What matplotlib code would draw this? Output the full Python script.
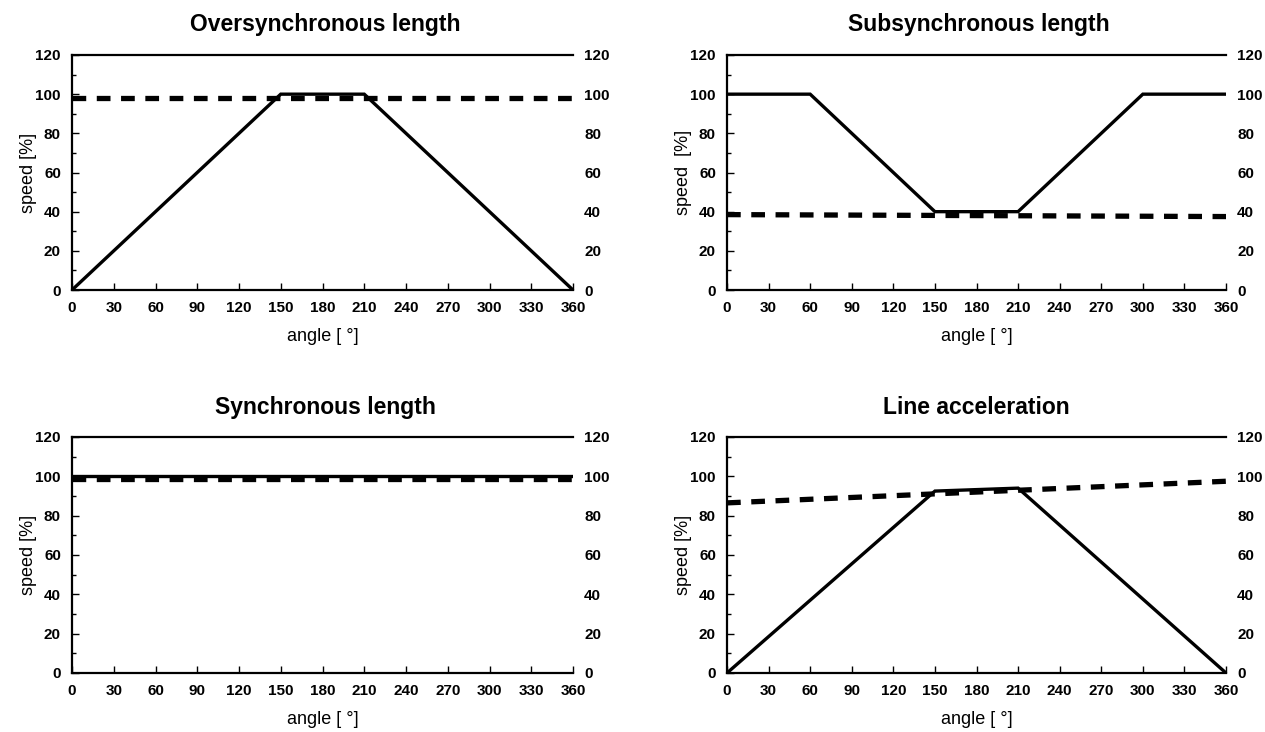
import matplotlib
matplotlib.use("Agg")
import matplotlib.pyplot as plt
from matplotlib.ticker import MultipleLocator

plt.rcParams['font.family'] = ['Liberation Sans', 'DejaVu Sans']

titles = ["Oversynchronous length", "Subsynchronous length",
          "Synchronous length", "Line acceleration"]
ylabels = ["speed [%]", "speed  [%]", "speed [%]", "speed [%]"]
xlabel = "angle [ °]"
xticks = [0, 30, 60, 90, 120, 150, 180, 210, 240, 270, 300, 330, 360]
yticks = [0, 20, 40, 60, 80, 100, 120]

# solid curves (angle, speed)
over_x = [0, 150, 210, 360]
over_y = [0, 100, 100, 0]
over_dash_x = [0, 360]
over_dash_y = [98, 98]

sub_x = [0, 60, 150, 210, 300, 360]
sub_y = [100, 100, 40, 40, 100, 100]
sub_dash_x = [0, 360]
sub_dash_y = [38.5, 37.5]

sync_x = [0, 360]
sync_y = [100, 100]
sync_dash_x = [0, 360]
sync_dash_y = [98.5, 98.5]

acc_x = [0, 150, 210, 360]
acc_y = [0, 92.5, 94, 0]
acc_dash_x = [0, 360]
acc_dash_y = [86.5, 97.5]

solids = [(over_x, over_y), (sub_x, sub_y), (sync_x, sync_y), (acc_x, acc_y)]
dashes = [(over_dash_x, over_dash_y), (sub_dash_x, sub_dash_y),
          (sync_dash_x, sync_dash_y), (acc_dash_x, acc_dash_y)]

W, H = 1265, 732
fig = plt.figure(figsize=(W / 100, H / 100), dpi=100)

boxes = [(72, 55, 573, 290), (727, 55, 1226, 290),
         (72, 437, 573, 673), (727, 437, 1226, 673)]
title_x = [0.505, 0.505, 0.505, 0.5]
title_pad = [17, 17, 16.5, 16.5]

for i, (x0, y0, x1, y1) in enumerate(boxes):
    ax = fig.add_axes([x0 / W, 1 - y1 / H, (x1 - x0) / W, (y1 - y0) / H])
    sx, sy = solids[i]
    dx, dy = dashes[i]
    ax.plot(dx, dy, color='black', lw=3.8, ls=(0, (2.6, 2.0)), solid_capstyle='butt',
            dash_capstyle='butt', zorder=3)
    ax.plot(sx, sy, color='black', lw=2.4, zorder=4, solid_joinstyle='miter')
    ax.set_xlim(0, 360)
    ax.set_ylim(0, 120)
    ax.set_xticks(xticks)
    ax.set_yticks(yticks)
    ax.yaxis.set_minor_locator(MultipleLocator(10))
    ax.spines['right'].set_visible(False)
    for s in ['top', 'bottom', 'left']:
        ax.spines[s].set_linewidth(1.6)
    ax.tick_params(axis='x', direction='in', length=5, width=1.0, pad=8,
                   labelsize=11, top=False)
    ax.tick_params(axis='y', which='both', direction='in', left=True, right=False,
                   labelright=True, labelleft=True, width=1.0, pad=8, labelsize=11)
    ax.tick_params(axis='y', which='major', length=5)
    ax.tick_params(axis='y', which='minor', length=3)
    for lab in ax.get_xticklabels() + ax.get_yticklabels():
        lab.set_fontweight('bold')
    ax.set_title(titles[i], fontsize=16.5, fontweight='bold', pad=title_pad[i], x=title_x[i])
    ax.set_xlabel(xlabel, fontsize=13, labelpad=9)
    ax.set_ylabel(ylabels[i], fontsize=13, labelpad=-1)

fig.savefig("out.png", dpi=100)
